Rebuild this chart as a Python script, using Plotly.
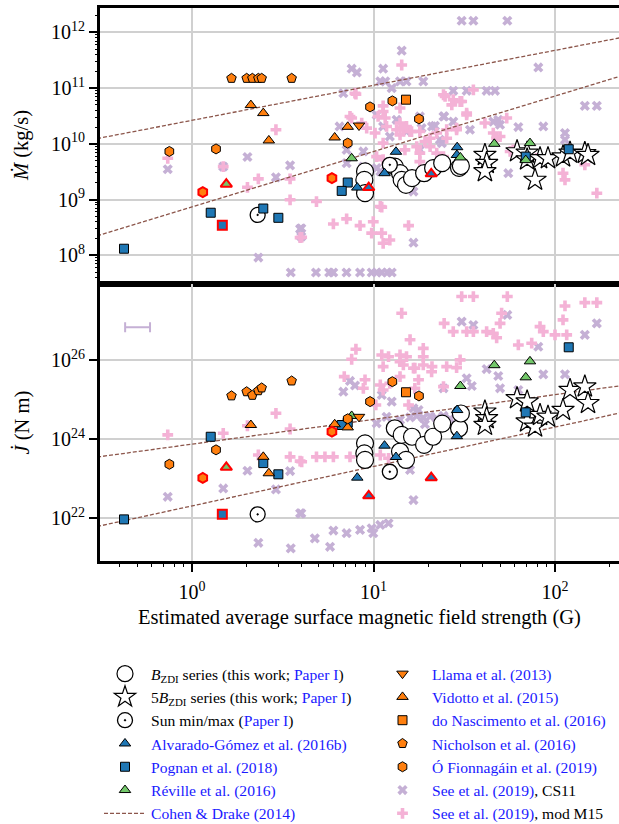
import plotly.graph_objects as go

# ---------------- data ----------------
# B_ZDI series (this work)
bzdi_B = [8.98, 8.90, 8.98, 13.1, 14.0, 14.3, 15.1, 16.3, 19.0, 21.3, 23.9, 29.6, 30.3]
bzdi_mdot = [3.2e9, 2.25e9, 1.3e9, 3.9e9, 2.97e9, 2.25e9, 1.83e9, 2.42e9, 2.97e9, 3.66e9, 4.5e9, 3.7e9, 4.0e9]
bzdi_jdot = [7.9e23, 4.4e23, 3.0e23, 1.9e24, 4.9e23, 1.29e24, 3.0e23, 1.16e24, 7.2e23, 1.16e24, 2.5e24, 1.9e24, 4.5e24]

# 5 B_ZDI series (this work)
star_B = [41.1, 42.0, 41.1, 61.8, 70.2, 70.2, 77.6, 82.7, 91.5, 110.7, 121, 146, 152]
star_mdot = [6.3e9, 4.5e9, 3.2e9, 7.3e9, 6.9e9, 5.2e9, 2.25e9, 5.5e9, 5.5e9, 5.9e9, 6.9e9, 6.8e9, 6.3e9]
star_jdot = [5.0e24, 3.4e24, 2.3e24, 1.09e25, 9.0e24, 2.8e24, 2.08e24, 4.1e24, 3.7e24, 5.5e24, 1.77e25, 2.15e25, 8.2e24]

# Sun at minimum / maximum
sun_B = [2.3, 12.3]
sun_mdot = [5.3e8, 4.2e9]
sun_jdot = [1.26e22, 1.51e23]

# Alvarado-Gomez et al. (2016b)
ag_B = [8.14, 11.5, 13.3, 28.9, 28.8]
ag_mdot = [1.64e9, 2.97e9, 7.2e9, 8.7e9, 6.3e9]
ag_jdot = [1.07e23, 6.9e23, 3.56e23, 5.5e24, 1.2e24]
ag_sun_B = [9.41, 20.8]
ag_sun_mdot = [1.64e9, 2.89e9]
ag_sun_jdot = [3.7e22, 1.07e23]

# Pognan et al. (2018)
pg_B = [0.422, 1.268, 2.47, 2.99, 7.21, 6.68, 69.0, 119]
pg_mdot = [1.31e8, 5.8e8, 6.9e8, 4.7e8, 2.02e9, 1.43e9, 5.9e9, 8.0e9]
pg_jdot = [9.4e21, 1.16e24, 2.5e23, 1.3e23, 2.63e24, 2.3e24, 4.8e24, 2.13e26]
pg_sun_B = [1.469]
pg_sun_mdot = [3.46e8]
pg_sun_jdot = [1.26e22]

# Reville et al. (2016)
rv_B = [7.58, 46.3, 30.1, 72.8, 69.0]
rv_mdot = [5.5e9, 1.0e10, 5.7e9, 1.03e10, 5.1e9]
rv_jdot = [3.9e24, 7.5e25, 2.23e25, 9.4e25, 3.7e25]
rv_sun_B = [1.545]
rv_sun_mdot = [1.89e9]
rv_sun_jdot = [1.95e23]

# Llama et al. (2013)
ll_B = [8.32]
ll_mdot = [2.13e10]
ll_jdot = [3.7e24]

# Vidotto et al. (2015)
vd_B = [2.11, 2.47, 2.65, 7.21, 6.11]
vd_mdot = [4.96e10, 3.56e10, 1.15e10, 2.02e10, 1.30e10]
vd_jdot = [2.3e24, 3.6e23, 1.38e23, 2.0e24, 2.4e24]

# do Nascimento et al. (2016)
dn_B = [15.1]
dn_mdot = [6.2e10]
dn_jdot = [1.55e25]

# Nicholson et al. (2016)
nc_B = [1.65, 2.00, 2.15, 2.32, 2.42, 3.54]
nc_mdot = [1.5e11, 1.5e11, 1.5e11, 1.5e11, 1.5e11, 1.5e11]
nc_jdot = [1.26e25, 1.6e25, 1.3e25, 1.7e25, 2.0e25, 3.0e25]

# O Fionnagain et al. (2019)
of_B = [0.750, 1.356, 9.57, 12.7, 17.8, 7.21]
of_mdot = [7.3e9, 8.1e9, 4.6e10, 5.9e10, 2.8e10, 1.03e10]
of_jdot = [2.33e23, 5.4e23, 9.0e24, 2.87e25, 1.25e25, 3.3e24]
of_sun_B = [1.146, 5.90]
of_sun_mdot = [1.36e9, 2.42e9]
of_sun_jdot = [1.05e23, 1.56e24]

# See et al. (2019), CS11 prescription
cs11_B_m = [0.735, 2.02, 2.32, 2.90, 3.47, 3.5, 3.94, 1.486,
            30.6, 35.5, 54.6, 14.3, 7.58, 8.1, 11.3, 10.9, 11.6, 14.0, 15.2, 18.8, 12.6, 6.82,
            27.5, 32.6, 42.0, 46.7, 80.9, 146, 170, 24.5, 21.8, 62.8, 86.2, 48.7, 49.8, 113.5,
            113.5, 23.8, 4.0, 4.0, 16.6, 55.3, 7.11, 8.79, 10.9, 16.6, 18.4, 10.4, 12.3, 18.0,
            4.82, 5.7, 6.0, 7.1, 8.43, 9.77, 10.4, 11.1, 11.9, 12.6,
            6.5, 11.3, 13.4, 15.2, 21.0, 24.3, 27.5, 34.0, 45.7, 10.4, 18.0, 23.2, 8.79, 7.11]
cs11_mdot = [3.5e9, 5.8e9, 9.1e7, 2.5e9, 4.1e9, 4.9e7, 2.97e8, 3.9e9,
             1.62e12, 1.62e12, 1.62e12, 4.7e11, 2.23e11, 1.91e11, 2.23e11, 1.32e11, 1.32e11, 1.32e11, 1.32e11, 1.32e11, 1.0e11, 8.1e10,
             8.95e10, 8.95e10, 8.95e10, 8.95e10, 2.35e11, 4.8e10, 4.8e10, 3.1e10, 2.1e10, 2.0e10, 2.05e10, 2.7e10, 2.2e10, 1.56e10,
             1.18e10, 1.03e10, 3.05e8, 2.16e8, 1.68e8, 2.97e9, 4.5e9, 7.3e9, 3.2e9, 1.39e9, 1.91e10, 3.3e10, 1.35e10, 3.1e10,
             4.9e7, 4.9e7, 4.9e7, 4.9e7, 4.9e7, 4.9e7, 4.9e7, 4.9e7, 4.9e7, 4.9e7,
             2.05e10, 2.05e10, 2.7e10, 1.66e10, 2.05e10, 3.1e10, 2.5e10, 1.79e10, 2.5e10, 3.66e9, 7.8e9, 1.18e10, 3.9e9, 7.8e9]
cs11_B_j = [0.735, 1.486, 2.02, 2.32, 2.90, 3.47, 3.5, 3.94,
            30.6, 35.5, 54.6, 170, 146, 80.9, 32.6, 34.8, 42.0, 48.7, 49.8, 62.8, 86.2, 113.5,
            24.3, 7.42, 6.82, 7.91, 11.1, 12.6, 16.6, 10.4, 11.8, 15.9, 16.6, 4.0, 4.75, 5.76,
            6.01, 7.11, 8.43, 9.77, 9.97, 10.9, 12.1, 14.0, 17.7,
            15.9, 17.3, 18.8, 20.5, 22.3, 24.3, 26.4, 19.2]
cs11_jdot = [3.5e22, 5.7e22, 1.6e23, 2.4e21, 5.4e22, 1.57e23, 1.74e21, 1.34e22,
             9.5e26, 7.8e26, 1.4e27, 8.6e26, 4.4e26, 2.2e26, 3.5e25, 2.23e25, 6.0e25, 4.0e25, 1.95e25, 1.77e25, 4.4e25, 4.4e25,
             1.95e25, 3.0e25, 1.6e25, 2.3e25, 1.32e25, 9.0e24, 6.1e24, 2.54e24, 3.7e24, 1.67e23, 2.9e22, 1.34e22, 3.1e21, 1.9e21,
             4.9e21, 4.2e21, 5.1e21, 5.6e21, 4.2e21, 6.8e21, 7.5e21, 3.1e24, 5.5e24,
             3.6e24, 3.9e24, 3.5e24, 3.8e24, 3.4e24, 3.9e24, 3.3e24, 2.4e24]

# See et al. (2019), modified M15 prescription
m15_B_m = [0.735, 1.486, 2.90, 2.02, 2.32, 3.47, 3.47, 3.94,
           14.3, 8.0, 11.3, 11.6, 7.58, 9.17, 10.6, 11.8, 14.0, 14.6, 15.9, 14.0, 18.0, 17.3, 20.5,
           25.3, 28.7, 32.6, 35.5, 24.8, 27.5, 30.6, 41.1, 54.2, 45.7, 47.7, 22.3, 11.3, 10.4, 18.0, 24.3,
           4.85, 6.01, 7.11, 8.43, 9.77, 9.97, 11.1, 11.3, 12.3, 15.6, 4.02,
           110.7, 113.5, 146, 170, 79.3, 58.9, 56.6,
           7.9, 7.42, 8.61, 10.2, 13.4, 15.2, 16.2, 19.2, 14.0, 11.3, 24.3, 27.0, 30.0, 32.6, 28.7,
           22.3, 25.3, 20.5, 18.0, 14.9, 11.3, 10.9, 11.1, 49.8]
m15_mdot = [5.5e9, 3.9e9, 1.79e10, 1.66e9, 2.35e9, 2.35e9, 9.9e8, 2.07e8,
            2.6e11, 7.8e10, 4.8e10, 2.9e10, 2.9e10, 1.91e10, 3.1e10, 2.05e10, 2.36e10, 1.91e10, 1.66e10, 1.45e10, 1.66e10, 8.9e9, 1.26e10,
            1.26e10, 1.79e10, 3.3e10, 9.3e10, 7.1e10, 6.2e10, 5.75e10, 2.36e10, 2.9e10, 1.56e10, 1.26e10, 6.8e9, 5.2e9, 5.9e9, 4.8e9, 5.9e9,
            9.2e8, 3.65e8, 4.5e8, 3.4e8, 2.5e8, 4.0e8, 7.3e8, 1.64e8, 1.88e8, 3.4e8, 2.1e8,
            2.97e9, 2.25e9, 4.2e9, 1.3e9, 5.5e9, 7.8e9, 7.3e9,
            8.1e10, 3.1e10, 2.36e10, 1.56e10, 1.79e10, 2.05e10, 1.66e10, 1.1e10, 4.4e10, 3.8e10, 7.6e10, 5.0e10, 5.75e10, 3.56e10, 1.91e10,
            1.56e10, 1.79e10, 8.9e9, 6.8e9, 7.8e9, 1.03e10, 7.5e8, 2.5e8, 1.35e10]
m15_B_j = [0.735, 1.486, 2.02, 2.32, 2.90, 3.47, 3.47, 3.94,
           30.6, 35.5, 54.6, 146, 170, 113.5, 110.7, 14.3, 24.5, 27.5, 32.6, 35.5, 42.0, 45.7, 49.8,
           50.8, 82.7, 86.2, 100, 116, 62.8, 74.4, 15.9, 18.8, 8.0, 7.58, 11.1, 12.1, 14.0, 15.2,
           16.9, 18.8, 21.0, 25.3, 30.0, 6.9, 8.98, 8.79, 11.3, 14.0, 17.7, 20.9, 24.3, 15.6,
           10.9, 12.3, 4.02, 4.85, 5.4, 6.01, 7.42, 10.9, 12.1, 10.3,
           47.7, 18.8, 11.3, 14.0, 14.6, 16.6, 28.7, 16.9]
m15_jdot = [1.29e24, 1.42e24, 2.2e24, 4.0e23, 4.55e24, 1.82e24, 3.6e23, 2.8e23,
            4.1e27, 4.1e27, 4.1e27, 2.87e27, 2.87e27, 2.37e27, 1.05e27, 1.55e27, 8.6e26, 5.3e26, 5.3e26, 5.3e26, 5.3e26, 4.8e26, 8.6e26,
            1.55e27, 7.1e26, 5.3e26, 4.4e26, 4.4e26, 2.44e26, 2.7e26, 3.3e26, 2.0e26, 1.9e26, 1.06e26, 1.36e26, 1.23e26, 9.2e25, 1.23e26,
            6.3e25, 7.6e25, 6.9e25, 6.9e25, 1.02e26, 3.85e25, 3.2e25, 1.95e25, 1.77e25, 3.85e25, 3.2e25, 5.1e25, 2.15e25, 7.4e24,
            2.37e25, 2.6e25, 2.7e23, 3.6e23, 3.6e23, 3.6e23, 3.6e23, 4.0e23, 3.3e23, 7.4e24,
            3.7e26, 1.23e26, 6.9e25, 1.36e26, 7.6e25, 6.3e25, 6.5e25, 1.95e25]

# Cohen & Drake (2014) relations (end points of the two power laws)
cd_B = [0.3, 250]
cd_mdot_hi = [1.24e10, 8.47e11]
cd_mdot_lo = [2.23e8, 1.79e11]
cd_jdot_hi = [3.55e23, 2.39e25]
cd_jdot_lo = [6.2e21, 5.08e24]

# typical uncertainty of the See et al. (2019) field strengths
err_B = [0.50]
err_jdot = [6.8e26]
err_B_minus = [0.072]
err_B_plus = [0.087]

# axis ticks
mdot_ticks = [1e8, 1e9, 1e10, 1e11, 1e12]
mdot_ticktext = ["10<sup>8</sup>", "10<sup>9</sup>", "10<sup>10</sup>", "10<sup>11</sup>", "10<sup>12</sup>"]
jdot_ticks = [1e22, 1e24, 1e26]
jdot_ticktext = ["10<sup>22</sup>", "10<sup>24</sup>", "10<sup>26</sup>"]
b_ticks = [1, 10, 100]
b_ticktext = ["10<sup>0</sup>", "10<sup>1</sup>", "10<sup>2</sup>"]
b_minor = [0.4, 0.5, 0.6, 0.7, 0.8, 0.9, 2, 3, 4, 5, 6, 7, 8, 9,
           20, 30, 40, 50, 60, 70, 80, 90, 200]
mdot_minor = [m * 10 ** e for e in range(7, 13) for m in range(2, 10)]

# ---------------- style ----------------
FONT = "Liberation Serif, Times New Roman, DejaVu Serif, serif"
BLUE = "#1f77b4"
ORANGE = "#ff7f0e"
GREEN = "#73c86a"
PURPLE = "#c5b0d5"
PINK = "#f4b2d6"
BROWN = "#8c564b"
LINK = "#1a1aff"
GRID = "#d0d0d0"

W, H = 619, 824
ML, MT, MB = 100, 8, 263
PLOT_W, PLOT_H = W - ML, H - MT - MB
X_RANGE = [-0.507, 2.3526]
Y1_RANGE = [7.484, 12.438]
Y2_RANGE = [20.92, 27.93]

fig = go.Figure()


def link(t):
    return f'<span style="color:{LINK}">{t}</span>'


def add_pair(B, top, bottom, name, symbol, size, color, line_color="black",
             line_width=1.0, legend="legend", rank=0, show=True):
    """Add the same sample to both panels; only the top one goes to the legend."""
    marker = dict(symbol=symbol, size=size, color=color,
                  line=dict(color=line_color, width=line_width))
    fig.add_trace(go.Scatter(x=B, y=top, mode="markers", marker=marker,
                             name=name, legendgroup=name, showlegend=show,
                             legend=legend, legendrank=rank,
                             xaxis="x", yaxis="y"))
    fig.add_trace(go.Scatter(x=B, y=bottom, mode="markers",
                             marker=marker, name=name, legendgroup=name,
                             showlegend=False, legend=legend,
                             xaxis="x2", yaxis="y2"))


# See et al. (2019) samples sit underneath everything else
fig.add_trace(go.Scatter(x=cs11_B_m, y=cs11_mdot, mode="markers",
                         marker=dict(symbol="x", size=9, color=PURPLE, line=dict(width=0)),
                         name=link("See et al. (2019)") + ", CS11", legendgroup="cs11",
                         legend="legend2", legendrank=6, xaxis="x", yaxis="y"))
fig.add_trace(go.Scatter(x=cs11_B_j, y=cs11_jdot, mode="markers",
                         marker=dict(symbol="x", size=9, color=PURPLE, line=dict(width=0)),
                         legendgroup="cs11", showlegend=False, xaxis="x2", yaxis="y2"))
fig.add_trace(go.Scatter(x=m15_B_m, y=m15_mdot, mode="markers",
                         marker=dict(symbol="cross", size=9, color=PINK, line=dict(width=0)),
                         name=link("See et al. (2019)") + ", mod M15", legendgroup="m15",
                         legend="legend2", legendrank=7, xaxis="x", yaxis="y"))
fig.add_trace(go.Scatter(x=m15_B_j, y=m15_jdot, mode="markers",
                         marker=dict(symbol="cross", size=9, color=PINK, line=dict(width=0)),
                         legendgroup="m15", showlegend=False, xaxis="x2", yaxis="y2"))

# Cohen & Drake (2014)
cd_line = dict(color=BROWN, width=1.3, dash="4px,2px")
fig.add_trace(go.Scatter(x=cd_B, y=cd_mdot_hi, mode="lines", line=cd_line,
                         name=link("Cohen &amp; Drake (2014)"), legendgroup="cd",
                         legend="legend", legendrank=7, xaxis="x", yaxis="y"))
for yv, xa, ya in [(cd_mdot_lo, "x", "y"), (cd_jdot_hi, "x2", "y2"), (cd_jdot_lo, "x2", "y2")]:
    fig.add_trace(go.Scatter(x=cd_B, y=yv, mode="lines", line=cd_line, legendgroup="cd",
                             showlegend=False, xaxis=xa, yaxis=ya))

# this work
add_pair(bzdi_B, bzdi_mdot, bzdi_jdot,
         "<i>B</i><sub>ZDI</sub> series (this work; " + link("Paper I") + ")",
         "circle", 17, "white", line_width=1.2, rank=1)
add_pair(star_B, star_mdot, star_jdot,
         "5<i>B</i><sub>ZDI</sub> series (this work; " + link("Paper I") + ")",
         "star", 17, "white", line_width=1.2, rank=2)
add_pair(sun_B, sun_mdot, sun_jdot, "Sun min/max (" + link("Paper I") + ")",
         "circle-dot", 15, "white", line_width=1.3, rank=3)

# literature
add_pair(ag_B, ag_mdot, ag_jdot, link("Alvarado-Gómez et al. (2016b)"),
         "triangle-up", 10, BLUE, rank=4)
add_pair(ag_sun_B, ag_sun_mdot, ag_sun_jdot, link("Alvarado-Gómez et al. (2016b)"),
         "triangle-up", 10, BLUE, line_color="red", line_width=2, show=False)
add_pair(pg_B, pg_mdot, pg_jdot, link("Pognan et al. (2018)"),
         "square", 9, BLUE, rank=5)
add_pair(pg_sun_B, pg_sun_mdot, pg_sun_jdot, link("Pognan et al. (2018)"),
         "square", 9, BLUE, line_color="red", line_width=2, show=False)
add_pair(rv_B, rv_mdot, rv_jdot, link("Réville et al. (2016)"),
         "triangle-up", 10, GREEN, rank=6)
add_pair(rv_sun_B, rv_sun_mdot, rv_sun_jdot, link("Réville et al. (2016)"),
         "triangle-up", 10, GREEN, line_color="red", line_width=2, show=False)
add_pair(ll_B, ll_mdot, ll_jdot, link("Llama et al. (2013)"),
         "triangle-down", 10, ORANGE, legend="legend2", rank=1)
add_pair(vd_B, vd_mdot, vd_jdot, link("Vidotto et al. (2015)"),
         "triangle-up", 10, ORANGE, legend="legend2", rank=2)
add_pair(dn_B, dn_mdot, dn_jdot, link("do Nascimento et al. (2016)"),
         "square", 9, ORANGE, legend="legend2", rank=3)
add_pair(nc_B, nc_mdot, nc_jdot, link("Nicholson et al. (2016)"),
         "pentagon", 10, ORANGE, legend="legend2", rank=4)
add_pair(of_B, of_mdot, of_jdot, link("Ó Fionnagáin et al. (2019)"),
         "hexagon", 10, ORANGE, legend="legend2", rank=5)
add_pair(of_sun_B, of_sun_mdot, of_sun_jdot, link("Ó Fionnagáin et al. (2019)"),
         "hexagon", 10, ORANGE, line_color="red", line_width=2, legend="legend2", show=False)

# representative uncertainty bar
fig.add_trace(go.Scatter(x=err_B, y=err_jdot, mode="markers",
                         marker=dict(size=1, opacity=0),
                         error_x=dict(type="data", symmetric=False, array=err_B_plus,
                                      arrayminus=err_B_minus, color=PURPLE,
                                      thickness=2, width=5),
                         showlegend=False, xaxis="x2", yaxis="y2"))

# carriers for the minor-tick axes
fig.add_trace(go.Scatter(x=[], y=[], xaxis="x3", yaxis="y2", showlegend=False))
fig.add_trace(go.Scatter(x=[], y=[], xaxis="x", yaxis="y3", showlegend=False))

split = (H - MB - 284) / PLOT_H
axis_common = dict(type="log", showline=True, linecolor="black", linewidth=3,
                   zeroline=False, gridcolor=GRID, gridwidth=1.8,
                   tickfont=dict(family=FONT, size=20, color="black"),
                   tickcolor="black")

legend_common = dict(xref="container", yref="container", xanchor="left", yanchor="top",
                     bgcolor="rgba(0,0,0,0)", font=dict(family=FONT, size=15.6),
                     tracegroupgap=0, itemsizing="trace")

# rotated y-axis titles, centred on each panel
title_x = (22 - ML) / PLOT_W
ytitles = [
    dict(text="<i>Ṁ</i> (kg/s)", y=(split + 1) / 2),
    dict(text="<i>J̇</i> (N m)", y=split / 2),
]
annotations = [dict(text=t["text"], x=title_x, y=t["y"], xref="paper", yref="paper",
                    xanchor="center", yanchor="middle", textangle=-90, showarrow=False,
                    font=dict(family=FONT, size=20.5, color="black"))
               for t in ytitles]

fig.update_layout(
    width=W, height=H,
    margin=dict(l=ML, r=0, t=MT, b=MB, autoexpand=False),
    paper_bgcolor="white", plot_bgcolor="white",
    font=dict(family=FONT, size=16, color="black"),
    annotations=annotations,
    xaxis=dict(axis_common, domain=[0, 1], anchor="y", range=X_RANGE,
               tickvals=b_ticks, showticklabels=False, ticks="", mirror=True),
    yaxis=dict(axis_common, domain=[split, 1], anchor="x", range=Y1_RANGE,
               tickvals=mdot_ticks, ticktext=mdot_ticktext, ticks="outside",
               ticklen=8, tickwidth=2),
    yaxis3=dict(type="log", overlaying="y", anchor="x", side="left", range=Y1_RANGE,
                tickvals=mdot_minor, ticks="outside", ticklen=4.5, tickwidth=1.3,
                tickcolor="black", showticklabels=False, showgrid=False,
                showline=False, zeroline=False),
    xaxis2=dict(axis_common, domain=[0, 1], anchor="y2", range=X_RANGE,
                tickvals=b_ticks, ticktext=b_ticktext, ticks="outside",
                ticklen=8, tickwidth=2, mirror=True, ticklabelstandoff=3,
                title=dict(text="Estimated average surface magnetic field strength (G)",
                           font=dict(family=FONT, size=20.5), standoff=8)),
    xaxis3=dict(type="log", overlaying="x2", anchor="y2", range=X_RANGE,
                tickvals=b_minor, ticks="outside", ticklen=4.5, tickwidth=1.3,
                tickcolor="black", showticklabels=False, showgrid=False,
                showline=False, zeroline=False),
    yaxis2=dict(axis_common, domain=[0, split], anchor="x2", range=Y2_RANGE,
                tickvals=jdot_ticks, ticktext=jdot_ticktext, ticks="outside",
                ticklen=8, tickwidth=2),
    legend=dict(legend_common, x=99 / W, y=1 - 657 / H, itemwidth=42),
    legend2=dict(legend_common, x=373 / W, y=1 - 657 / H, itemwidth=49),
    showlegend=True,
)

fig.write_html("out.html")
